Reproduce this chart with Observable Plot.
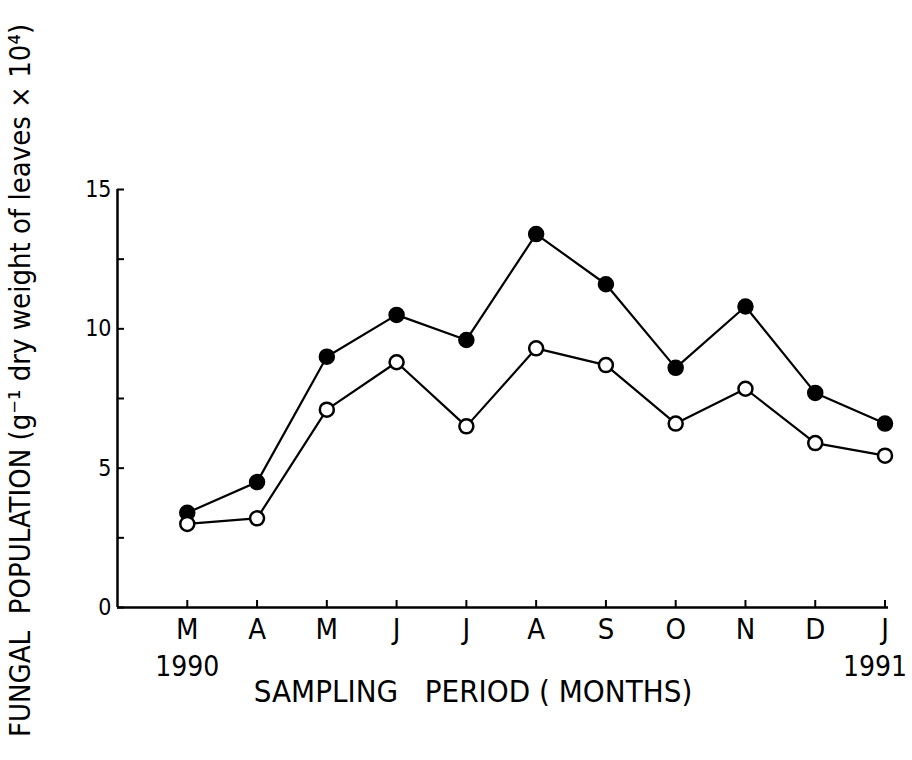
<!DOCTYPE html>
<html>
<head>
<meta charset="utf-8">
<script src="https://cdn.jsdelivr.net/npm/d3@7"></script>
<script src="https://cdn.jsdelivr.net/npm/@observablehq/plot@0.6"></script>
<style>
  html, body { margin: 0; padding: 0; background: #fff; }
  #chart svg { font-family: "DejaVu Sans Condensed", "DejaVu Sans", sans-serif; }
</style>
</head>
<body>
<div id="chart"></div>
<script>
const months = ["M", "A", "M", "J", "J", "A", "S", "O", "N", "D", "J"];
const filledValues = [3.4, 4.5, 9.0, 10.5, 9.6, 13.4, 11.6, 8.6, 10.8, 7.7, 6.6];
const openValues = [3.0, 3.2, 7.1, 8.8, 6.5, 9.3, 8.7, 6.6, 7.85, 5.9, 5.45];
const yTicks = [0, 2.5, 5, 7.5, 10, 12.5, 15];
const yTickLabels = ["0", "", "5", "", "10", "", "15"];
const startYear = [{i: 0, label: "1990"}];
const endYear = [{i: 10, label: "1991"}];
const xTitle = "SAMPLING   PERIOD ( MONTHS)";
const yTitle = "FUNGAL  POPULATION (g⁻¹ dry weight of leaves × 10⁴)";

const filled = months.map((m, i) => ({i, m, v: filledValues[i]}));
const open = months.map((m, i) => ({i, m, v: openValues[i]}));

const chart = Plot.plot({
  width: 912,
  height: 760,
  marginLeft: 117,
  marginRight: 24,
  marginTop: 189,
  marginBottom: 153,
  style: {fontSize: "20px", color: "#000", background: "#fff"},
  x: {domain: [-1, 10.05]},
  y: {domain: [0, 15]},
  marks: [
    Plot.ruleX([-1], {stroke: "#000", strokeWidth: 2.5}),
    Plot.ruleY([0], {stroke: "#000", strokeWidth: 2.5}),
    Plot.axisY({
      ticks: yTicks,
      tickFormat: (d, k) => yTickLabels[k],
      tickSize: -7,
      tickPadding: 13,
      strokeWidth: 2,
      fontSize: 23,
      label: null
    }),
    Plot.axisX({
      ticks: d3.range(0, 11),
      tickFormat: (d) => months[d],
      tickSize: -7,
      tickPadding: 18,
      strokeWidth: 2,
      fontSize: 29,
      label: null
    }),
    Plot.text(startYear, {
      x: "i",
      text: "label",
      frameAnchor: "bottom",
      dy: 68,
      fontSize: 28
    }),
    Plot.text(endYear, {
      x: "i",
      text: "label",
      frameAnchor: "bottom",
      textAnchor: "end",
      dx: 22,
      dy: 68,
      fontSize: 28
    }),
    Plot.text([xTitle], {
      frameAnchor: "bottom",
      dy: 94,
      dx: -30,
      fontSize: 31
    }),
    Plot.text([yTitle], {
      frameAnchor: "left",
      textAnchor: "middle",
      rotate: -90,
      dx: -97,
      dy: -18,
      fontSize: 29
    }),
    Plot.line(filled, {x: "i", y: "v", stroke: "#000", strokeWidth: 2.2}),
    Plot.line(open, {x: "i", y: "v", stroke: "#000", strokeWidth: 2.2}),
    Plot.dot(filled, {x: "i", y: "v", r: 7.5, fill: "#000", stroke: "#000"}),
    Plot.dot(open, {x: "i", y: "v", r: 7, fill: "#fff", stroke: "#000", strokeWidth: 2.5})
  ]
});
document.getElementById("chart").appendChild(chart);
</script>
</body>
</html>
